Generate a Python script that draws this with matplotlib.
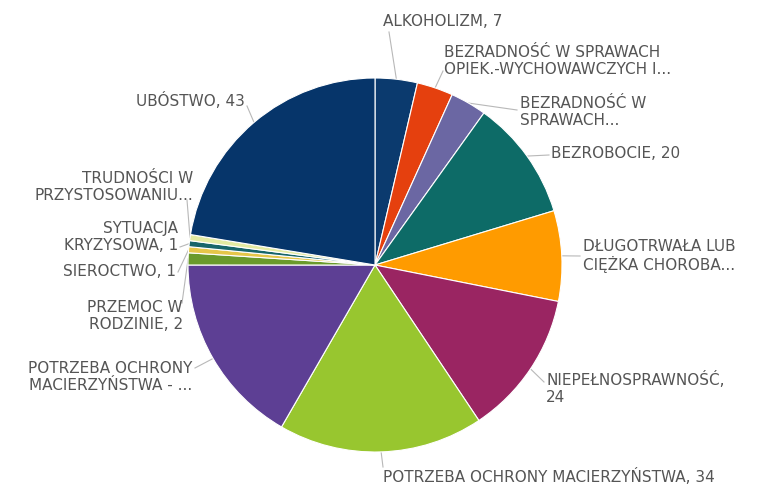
import matplotlib
matplotlib.use('Agg')
import matplotlib.pyplot as plt
import numpy as np

# slice data, clockwise from 12 o'clock
categories = [
    'ALKOHOLIZM, 7',
    'BEZRADNOŚĆ W SPRAWACH\nOPIEK.-WYCHOWAWCZYCH I...',
    'BEZRADNOŚĆ W\nSPRAWACH...',
    'BEZROBOCIE, 20',
    'DŁUGOTRWAŁA LUB\nCIĘŻKA CHOROBA...',
    'NIEPEŁNOSPRAWNOŚĆ,\n24',
    'POTRZEBA OCHRONY MACIERZYŃSTWA, 34',
    'POTRZEBA OCHRONY\nMACIERZYŃSTWA - ...',
    'PRZEMOC W\nRODZINIE, 2',
    'SIEROCTWO, 1',
    'SYTUACJA\nKRYZYSOWA, 1',
    'TRUDNOŚCI W\nPRZYSTOSOWANIU...',
    'UBÓSTWO, 43',
]
values = [7, 6, 6, 20, 15, 24, 34, 32, 2, 1, 1, 1, 43]
colors = ['#0b3a6e', '#e5400e', '#6b67a3', '#0d6b67', '#ff9b00', '#9a2562',
          '#98c62f', '#5d3f94', '#6a9a2c', '#e5c64a', '#17656a', '#e3eaa2',
          '#06356a']

# label placement in pixel coords (origin top-left): text x, text y, align, line end x, line end y
label_pos = [
    (383, 22, 'left', 389, 32),
    (444, 61, 'left', 443, 71),
    (520, 112, 'left', 517, 110),
    (551, 153, 'left', 549, 155),
    (583, 256, 'left', 580, 256),
    (546, 388, 'left', 544, 382),
    (383, 476, 'left', 383, 467),
    (192, 377, 'right', 195, 368),
    (183, 316, 'right', 182, 303),
    (176, 272, 'right', 178, 272),
    (178, 237, 'right', 180, 247),
    (193, 187, 'right', 187, 200),
    (245, 101, 'right', 247, 106),
]

W, H = 758, 488
cx, cy, r = 375, 265, 187

fig = plt.figure(figsize=(W / 100, H / 100), dpi=100)
ax = fig.add_axes([0, 0, 1, 1])

wedges, _ = ax.pie(values, colors=colors, startangle=90, counterclock=False,
                   center=(cx, H - cy), radius=r,
                   wedgeprops=dict(edgecolor='white', linewidth=0.8))

ax.set_xlim(0, W)
ax.set_ylim(0, H)
ax.set_aspect('equal')
ax.axis('off')

for w, lab, (tx, ty, ha, lx, ly) in zip(wedges, categories, label_pos):
    mid = np.deg2rad((w.theta1 + w.theta2) / 2)
    sx = cx + r * np.cos(mid)
    sy = H - cy + r * np.sin(mid)
    ax.plot([sx, lx], [sy, H - ly], color='#b8b8b8', lw=0.8, zorder=0)
    ax.text(tx, H - ty, lab, ha=ha, va='center', fontsize=11,
            color='#555555', linespacing=1.2)

fig.savefig('out.png', dpi=100)
